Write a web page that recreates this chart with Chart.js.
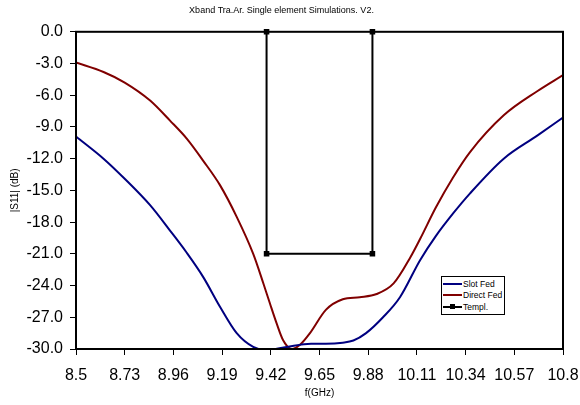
<!DOCTYPE html>
<html lang="en">
<head>
    <meta charset="UTF-8">
    <title>Xband Tra.Ar. Single element Simulations. V2.</title>
    <script src="https://cdn.jsdelivr.net/npm/chart.js"></script>
    <style>
        body { margin: 0; background: #fff; }
        #wrap { position: relative; width: 580px; height: 405px; }
        #legend {
            position: absolute; left: 441px; top: 276px; width: 61px;
            border: 1px solid #000; background: #fff;
            font-family: Arial, "Liberation Sans", sans-serif; font-size: 8.5px; color: #000;
            padding: 1px 0 1px 1px; white-space: nowrap; overflow: hidden;
        }
        .item { display: flex; align-items: center; height: 11.5px; }
        .sample { position: relative; flex: none; width: 19px; height: 2px; margin-right: 1px; }
        .sample i { position: absolute; left: 7px; top: -2px; width: 5px; height: 5px; background: #000; }
    </style>
</head>
<body>
<div id="wrap">
    <canvas id="chart" width="580" height="405"></canvas>
    <div id="legend"></div>
</div>
<script>
    // Simulated |S11| curves
    var slotFreq = [8.5, 8.63, 8.73, 8.85, 8.944, 9.023, 9.101, 9.18, 9.259, 9.337, 9.40, 9.495, 9.61, 9.68, 9.76, 9.81, 9.87, 9.95, 10.03, 10.125, 10.2, 10.28, 10.36, 10.52, 10.68, 10.8];
    var slotS11 = [-9.9, -12.0, -13.9, -16.4, -18.8, -20.9, -23.2, -26.0, -28.5, -29.8, -30.1, -29.8, -29.5, -29.5, -29.4, -29.2, -28.5, -27.0, -25.1, -21.6, -19.3, -17.2, -15.3, -12.0, -9.8, -8.1];

    var directFreq = [8.5, 8.63, 8.73, 8.85, 8.944, 9.023, 9.101, 9.18, 9.259, 9.337, 9.385, 9.416, 9.448, 9.479, 9.519, 9.558, 9.605, 9.68, 9.76, 9.84, 9.92, 10.0, 10.08, 10.125, 10.2, 10.28, 10.36, 10.52, 10.68, 10.8];
    var directS11 = [-2.9, -3.8, -4.8, -6.5, -8.4, -10.1, -12.2, -14.5, -17.5, -21.0, -23.8, -25.7, -27.6, -29.2, -30.0, -29.6, -28.5, -26.3, -25.3, -25.1, -24.8, -23.8, -21.3, -19.6, -16.6, -13.8, -11.4, -7.9, -5.6, -4.1];

    // spec template
    var templFreq = [9.4, 9.4, 9.9, 9.9];
    var templS11 = [0, -21, -21, 0];

    var freqTicks = [8.5, 8.73, 8.96, 9.19, 9.42, 9.65, 9.88, 10.11, 10.34, 10.57, 10.8];
    var freqLabels = ['8.5', '8.73', '8.96', '9.19', '9.42', '9.65', '9.88', '10.11', '10.34', '10.57', '10.8'];
    var dbTicks = [0, -3, -6, -9, -12, -15, -18, -21, -24, -27, -30];

    function pts(xs, ys) {
        return xs.map(function (x, i) { return { x: x, y: ys[i] }; });
    }

    var font = 'Arial, "Liberation Sans", sans-serif';

    // draw the box round the plot area
    var frame = {
        id: 'frame',
        afterDatasetsDraw: function (chart) {
            var a = chart.chartArea, c = chart.ctx;
            c.save();
            c.strokeStyle = '#000';
            c.lineWidth = 2;
            c.strokeRect(a.left, a.top, a.right - a.left, a.bottom - a.top);
            c.restore();
        }
    };

    var chart = new Chart(document.getElementById('chart').getContext('2d'), {
        type: 'line',
        data: {
            datasets: [{
                label: 'Slot Fed',
                data: pts(slotFreq, slotS11),
                borderColor: '#000080',
                borderWidth: 2,
                pointRadius: 0,
                cubicInterpolationMode: 'monotone'
            }, {
                label: 'Direct Fed',
                data: pts(directFreq, directS11),
                borderColor: '#800000',
                borderWidth: 2,
                pointRadius: 0,
                cubicInterpolationMode: 'monotone'
            }, {
                label: 'Templ.',
                data: pts(templFreq, templS11),
                borderColor: '#000',
                backgroundColor: '#000',
                borderWidth: 2,
                tension: 0,
                pointStyle: 'rect',
                pointRadius: 2.5,
                clip: false
            }]
        },
        options: {
            responsive: false,
            animation: false,
            layout: { padding: { left: 0, right: 17, top: 0, bottom: 0 } },
            plugins: {
                legend: { display: false },
                tooltip: { enabled: false },
                title: {
                    display: true,
                    text: 'Xband Tra.Ar. Single element Simulations. V2.',
                    color: '#000',
                    font: { family: font, size: 9, weight: 'normal' },
                    padding: { top: 5, bottom: 16 }
                }
            },
            scales: {
                x: {
                    type: 'linear',
                    min: 8.5,
                    max: 10.8,
                    afterBuildTicks: function (s) { s.ticks = freqTicks.map(function (v) { return { value: v }; }); },
                    afterFit: function (s) { s.height = 56; s.paddingLeft = 0; s.paddingRight = 0; },
                    ticks: {
                        autoSkip: false, maxRotation: 0, color: '#000', padding: 11,
                        font: { family: font, size: 16 },
                        callback: function (v, i) { return freqLabels[i]; }
                    },
                    grid: { drawOnChartArea: false, drawTicks: true, tickLength: 6, color: '#000', lineWidth: 1 },
                    border: { display: true, color: '#000', width: 2 },
                    title: { display: true, text: 'f(GHz)', color: '#000', font: { family: font, size: 10 }, padding: { top: 0, bottom: 6 } }
                },
                y: {
                    min: -30,
                    max: 0,
                    afterBuildTicks: function (s) { s.ticks = dbTicks.map(function (v) { return { value: v }; }); },
                    afterFit: function (s) { s.width = 76; },
                    ticks: {
                        color: '#000', padding: 7,
                        font: { family: font, size: 16 },
                        callback: function (v) { return v.toFixed(1); }
                    },
                    grid: { drawOnChartArea: false, drawTicks: true, tickLength: 6, color: '#000', lineWidth: 1 },
                    border: { display: true, color: '#000', width: 2 },
                    title: { display: true, text: '|S11| (dB)', color: '#000', font: { family: font, size: 10 }, padding: { top: 9, bottom: 0 } }
                }
            }
        },
        plugins: [frame]
    });

    // legend drawn in a small box inside the plot, as in the original
    var html = '';
    chart.data.datasets.forEach(function (d) {
        html += '<div class="item"><span class="sample" style="background:' + d.borderColor + '">' +
            (d.pointStyle === 'rect' ? '<i></i>' : '') + '</span>' + d.label + '</div>';
    });
    document.getElementById('legend').innerHTML = html;
</script>
</body>
</html>
